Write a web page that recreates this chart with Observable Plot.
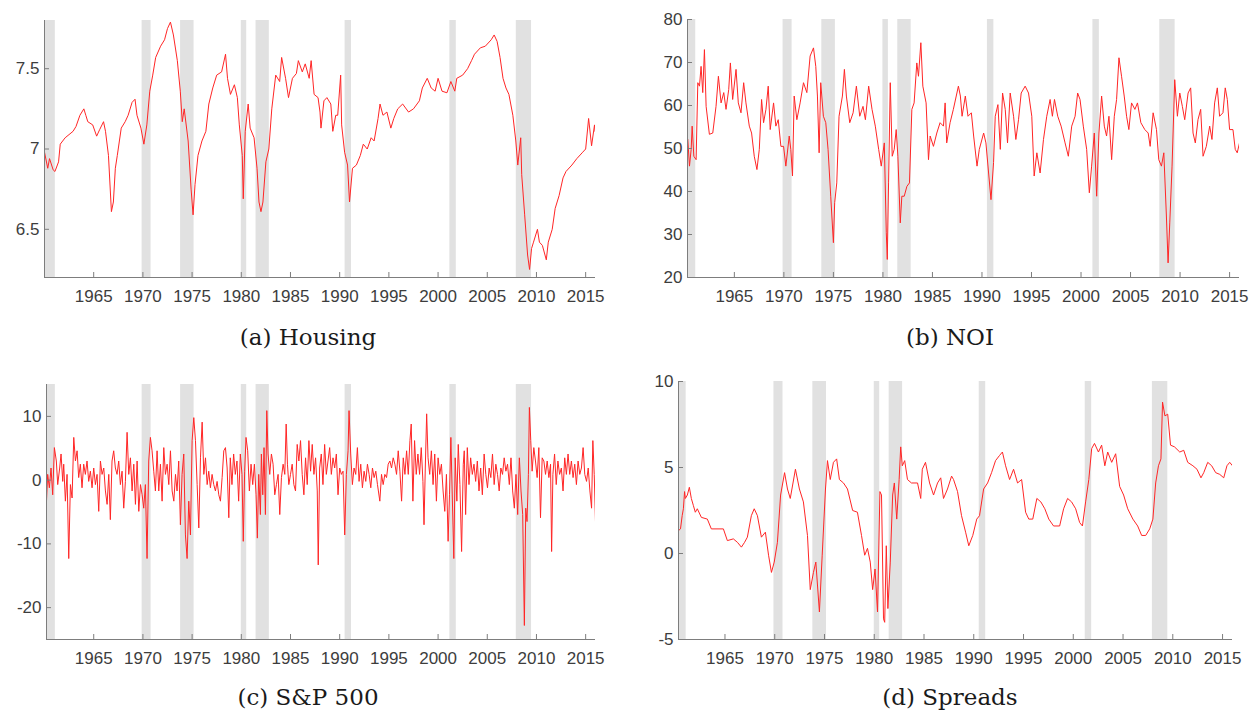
<!DOCTYPE html>
<html><head><meta charset="utf-8">
<script src="https://cdn.jsdelivr.net/npm/d3@7"></script>
<script src="https://cdn.jsdelivr.net/npm/@observablehq/plot@0.6"></script>
<style>
body{margin:0;background:#fff;}
#wrap{position:relative;width:1250px;height:711px;overflow:hidden;background:#fff;}
.panel{position:absolute;}
.cap{position:absolute;font-family:"DejaVu Serif",serif;font-size:23px;color:#1a1a1a;transform:translate(-50%,-50%);white-space:nowrap;}
</style></head><body><div id="wrap"></div>
<script>
// NBER recession periods [start, end] (decimal years)
const recessions = [[1960.0,1961.1],[1969.92,1970.83],[1973.83,1975.2],[1980.0,1980.55],[1981.5,1982.85],[1990.55,1991.2],[2001.2,2001.85],[2007.95,2009.5]];
const xTicks = [1965,1970,1975,1980,1985,1990,1995,2000,2005,2010,2015];

// (a) Housing  [year, value]
const housing = [[1960.0,6.98],[1960.33,6.88],[1960.51,6.94],[1960.88,6.87],[1961.06,6.86],[1961.43,6.92],[1961.6,7.03],[1962.1,7.07],[1962.9,7.11],[1963.2,7.14],[1963.6,7.21],[1964.0,7.25],[1964.2,7.21],[1964.4,7.17],[1964.9,7.15],[1965.3,7.08],[1965.6,7.12],[1966.0,7.17],[1966.2,7.11],[1966.5,6.96],[1966.8,6.61],[1967.0,6.67],[1967.2,6.88],[1967.4,6.96],[1967.8,7.13],[1968.2,7.17],[1968.5,7.21],[1968.9,7.29],[1969.2,7.31],[1969.4,7.21],[1969.8,7.13],[1970.1,7.03],[1970.4,7.15],[1970.7,7.36],[1971.0,7.46],[1971.3,7.57],[1971.8,7.64],[1972.2,7.68],[1972.5,7.75],[1972.8,7.79],[1973.1,7.71],[1973.5,7.55],[1973.8,7.36],[1974.0,7.17],[1974.2,7.25],[1974.6,7.05],[1974.9,6.75],[1975.1,6.59],[1975.3,6.78],[1975.6,6.96],[1976.0,7.05],[1976.4,7.11],[1976.7,7.28],[1977.1,7.38],[1977.5,7.46],[1978.0,7.48],[1978.4,7.59],[1978.6,7.44],[1978.9,7.34],[1979.3,7.40],[1979.6,7.32],[1979.8,7.15],[1980.1,6.96],[1980.2,6.69],[1980.4,7.11],[1980.7,7.28],[1980.9,7.13],[1981.3,7.07],[1981.6,6.88],[1981.8,6.67],[1982.0,6.61],[1982.2,6.67],[1982.5,6.92],[1982.8,7.00],[1983.1,7.25],[1983.5,7.46],[1983.9,7.42],[1984.1,7.57],[1984.5,7.44],[1984.8,7.32],[1985.2,7.44],[1985.6,7.47],[1985.8,7.55],[1986.2,7.48],[1986.5,7.53],[1986.9,7.44],[1987.1,7.55],[1987.4,7.34],[1987.8,7.32],[1988.0,7.23],[1988.1,7.13],[1988.4,7.30],[1988.7,7.32],[1989.1,7.28],[1989.3,7.11],[1989.6,7.21],[1989.8,7.21],[1990.1,7.46],[1990.2,7.15],[1990.5,6.98],[1990.8,6.90],[1991.0,6.67],[1991.3,6.88],[1991.7,6.90],[1992.1,6.96],[1992.4,7.03],[1992.8,7.00],[1993.2,7.07],[1993.5,7.05],[1993.9,7.19],[1994.1,7.28],[1994.4,7.21],[1994.8,7.23],[1995.2,7.13],[1995.5,7.19],[1995.9,7.25],[1996.4,7.28],[1997.0,7.23],[1997.5,7.25],[1998.1,7.30],[1998.4,7.38],[1998.9,7.44],[1999.3,7.38],[1999.7,7.36],[2000.0,7.44],[2000.4,7.36],[2000.9,7.35],[2001.3,7.42],[2001.7,7.36],[2001.9,7.44],[2002.5,7.46],[2003.0,7.50],[2003.4,7.55],[2003.7,7.59],[2004.3,7.63],[2004.8,7.64],[2005.4,7.68],[2005.7,7.71],[2006.0,7.67],[2006.3,7.57],[2006.6,7.44],[2006.9,7.38],[2007.2,7.34],[2007.6,7.21],[2007.9,7.05],[2008.1,6.90],[2008.4,7.07],[2008.5,6.84],[2008.8,6.59],[2009.1,6.34],[2009.3,6.25],[2009.5,6.38],[2009.7,6.42],[2010.1,6.50],[2010.3,6.42],[2010.6,6.40],[2011.0,6.31],[2011.2,6.42],[2011.6,6.50],[2011.9,6.63],[2012.3,6.71],[2012.7,6.82],[2013.0,6.86],[2013.6,6.90],[2014.1,6.94],[2014.7,6.98],[2015.0,7.00],[2015.3,7.19],[2015.6,7.02],[2015.9,7.15],[2015.95,7.11]];

// (b) NOI
const noi = [[1960.3,52.1],[1960.47,45.9],[1960.64,49.8],[1960.74,55.2],[1960.91,48.2],[1961.14,47.4],[1961.31,65.3],[1961.48,64.5],[1961.64,69.1],[1961.81,63.0],[1961.98,73.0],[1962.15,59.8],[1962.48,53.3],[1962.82,53.6],[1963.15,59.8],[1963.39,66.8],[1963.66,60.6],[1963.93,63.0],[1964.16,59.1],[1964.43,63.7],[1964.6,69.9],[1964.83,61.4],[1965.17,68.4],[1965.4,60.6],[1965.67,58.3],[1965.94,65.3],[1966.17,60.6],[1966.51,55.2],[1966.74,53.6],[1967.01,48.2],[1967.28,45.1],[1967.52,49.8],[1967.75,61.4],[1967.95,56.0],[1968.19,59.1],[1968.42,64.5],[1968.62,54.4],[1968.96,60.6],[1969.19,55.2],[1969.43,56.7],[1969.7,50.5],[1969.97,50.5],[1970.2,45.9],[1970.54,52.9],[1970.7,49.8],[1970.87,43.6],[1971.04,62.2],[1971.31,56.7],[1971.64,60.6],[1971.98,65.3],[1972.32,63.0],[1972.65,71.5],[1972.99,73.4],[1973.22,69.1],[1973.39,62.2],[1973.56,49.0],[1973.72,65.3],[1973.99,57.5],[1974.23,56.0],[1974.46,49.8],[1974.73,38.9],[1975.0,28.1],[1975.13,37.4],[1975.34,42.0],[1975.57,57.5],[1975.91,62.2],[1976.11,68.4],[1976.31,62.2],[1976.65,56.0],[1976.99,58.3],[1977.32,64.5],[1977.66,57.5],[1977.99,59.8],[1978.23,56.7],[1978.56,64.5],[1978.9,59.1],[1979.23,55.2],[1979.57,49.8],[1979.83,45.9],[1980.14,51.3],[1980.34,30.4],[1980.44,24.2],[1980.57,42.0],[1980.74,65.3],[1980.94,48.2],[1981.14,49.8],[1981.34,54.4],[1981.51,48.2],[1981.75,32.7],[1981.91,38.9],[1982.15,38.9],[1982.42,41.2],[1982.68,42.0],[1982.92,59.1],[1983.15,60.6],[1983.42,69.9],[1983.59,66.8],[1983.83,74.6],[1984.03,64.5],[1984.36,60.6],[1984.6,47.4],[1984.77,52.9],[1985.1,50.5],[1985.44,53.6],[1985.77,56.0],[1986.11,55.2],[1986.28,60.6],[1986.44,51.3],[1986.78,56.0],[1987.11,59.1],[1987.62,64.5],[1987.82,62.2],[1987.99,57.5],[1988.32,62.2],[1988.59,57.5],[1988.93,58.3],[1989.16,52.9],[1989.5,45.9],[1989.73,49.8],[1990.17,53.6],[1990.4,51.3],[1990.67,44.3],[1990.91,38.1],[1991.17,46.7],[1991.34,57.5],[1991.61,60.2],[1991.85,49.8],[1992.08,62.9],[1992.35,59.1],[1992.58,51.3],[1992.85,62.9],[1993.19,57.5],[1993.42,52.1],[1993.69,56.7],[1993.96,62.9],[1994.36,64.5],[1994.7,62.9],[1995.03,57.5],[1995.27,43.6],[1995.54,49.0],[1995.87,44.3],[1996.21,52.1],[1996.54,57.5],[1996.88,61.4],[1997.11,57.5],[1997.32,61.4],[1997.65,57.5],[1997.99,55.2],[1998.39,51.3],[1998.72,48.2],[1999.06,55.2],[1999.4,57.5],[1999.66,62.9],[1999.9,61.4],[2000.23,55.2],[2000.57,49.8],[2000.84,39.7],[2001.07,45.9],[2001.34,53.6],[2001.58,38.9],[2001.81,53.6],[2002.08,62.2],[2002.35,55.2],[2002.58,52.9],[2002.82,57.5],[2003.09,47.4],[2003.36,57.5],[2003.59,61.4],[2003.83,71.1],[2004.09,66.8],[2004.36,62.2],[2004.6,57.5],[2004.83,54.4],[2005.1,60.6],[2005.44,59.1],[2005.7,60.6],[2006.04,56.0],[2006.44,54.4],[2006.78,53.6],[2006.98,50.5],[2007.28,58.3],[2007.62,54.4],[2007.85,47.4],[2008.12,45.9],[2008.36,49.0],[2008.62,34.3],[2008.79,23.4],[2008.96,32.7],[2009.19,45.9],[2009.46,66.0],[2009.73,57.5],[2009.97,62.9],[2010.23,59.8],[2010.47,56.7],[2010.81,62.9],[2011.07,64.1],[2011.31,53.6],[2011.54,51.3],[2011.81,56.7],[2012.08,59.1],[2012.32,48.2],[2012.65,50.5],[2012.99,55.2],[2013.22,52.1],[2013.49,60.6],[2013.76,64.1],[2013.99,57.5],[2014.33,58.3],[2014.56,64.1],[2014.77,61.4],[2015.0,54.4],[2015.34,54.4],[2015.57,49.8],[2015.77,49.0],[2016.0,51.3]];

// (c) S&P 500
const sp500 = [[1960.2,-3.3],[1960.32,0.9],[1960.49,-1.2],[1960.66,1.9],[1960.83,-2.3],[1961.0,5.1],[1961.2,3.0],[1961.34,-0.7],[1961.54,1.9],[1961.68,4.1],[1961.85,-0.2],[1961.95,2.5],[1962.12,-3.3],[1962.29,0.9],[1962.46,-12.3],[1962.63,-0.7],[1962.8,-2.8],[1962.97,6.7],[1963.14,3.0],[1963.31,4.6],[1963.47,0.4],[1963.64,2.5],[1963.81,-1.2],[1963.98,2.5],[1964.15,0.9],[1964.32,3.0],[1964.49,-0.2],[1964.66,1.4],[1964.83,-1.2],[1965.0,1.9],[1965.17,-0.7],[1965.34,0.9],[1965.51,-4.9],[1965.68,3.0],[1965.85,0.9],[1966.02,1.9],[1966.19,-1.7],[1966.36,-3.8],[1966.53,0.9],[1966.69,-6.2],[1966.86,3.0],[1967.03,4.6],[1967.2,1.9],[1967.37,0.9],[1967.54,3.0],[1967.71,-0.7],[1967.88,1.4],[1968.05,-4.4],[1968.22,-0.2],[1968.39,7.5],[1968.56,0.9],[1968.73,3.5],[1968.9,-1.7],[1969.07,2.5],[1969.24,-3.8],[1969.41,3.0],[1969.58,-4.9],[1969.75,-0.7],[1969.92,-2.3],[1970.08,-4.4],[1970.25,-0.7],[1970.42,-12.3],[1970.59,3.0],[1970.76,6.7],[1970.93,4.6],[1971.1,1.4],[1971.27,-1.7],[1971.44,4.6],[1971.61,-1.7],[1971.78,2.5],[1971.95,-3.3],[1972.12,5.1],[1972.29,0.9],[1972.46,2.5],[1972.63,-0.7],[1972.8,4.6],[1972.97,-1.7],[1973.14,-3.3],[1973.31,0.9],[1973.47,-1.7],[1973.64,3.0],[1973.81,-7.0],[1973.98,0.9],[1974.15,4.1],[1974.32,-8.6],[1974.49,-12.3],[1974.66,-3.3],[1974.83,-8.6],[1975.0,6.2],[1975.17,9.8],[1975.34,6.2],[1975.51,-0.7],[1975.68,-7.5],[1975.85,3.5],[1976.02,9.1],[1976.19,0.9],[1976.36,3.5],[1976.53,-0.7],[1976.69,1.4],[1976.86,-1.2],[1977.03,0.9],[1977.2,-0.7],[1977.37,-1.7],[1977.54,-0.2],[1977.71,-2.3],[1977.88,-3.3],[1978.05,0.4],[1978.22,4.6],[1978.39,5.1],[1978.56,1.9],[1978.73,-5.9],[1978.88,3.5],[1979.05,-0.7],[1979.22,4.1],[1979.39,0.9],[1979.56,3.0],[1979.73,-3.3],[1979.9,4.1],[1980.07,0.9],[1980.2,-9.6],[1980.34,1.4],[1980.48,6.7],[1980.65,4.6],[1980.82,-1.7],[1980.99,2.5],[1981.16,-0.7],[1981.33,2.5],[1981.5,-2.3],[1981.63,-9.1],[1981.77,0.9],[1981.94,-5.4],[1982.04,4.1],[1982.18,-2.3],[1982.31,5.1],[1982.45,-5.4],[1982.59,10.9],[1982.72,4.1],[1982.89,0.9],[1983.06,4.1],[1983.23,2.5],[1983.4,-2.3],[1983.57,-0.7],[1983.74,0.9],[1983.91,-5.4],[1984.08,0.4],[1984.25,2.5],[1984.42,0.9],[1984.56,8.8],[1984.69,2.5],[1984.83,-0.7],[1985.0,0.9],[1985.17,2.5],[1985.34,-0.7],[1985.51,-1.7],[1985.68,5.6],[1985.85,3.0],[1986.02,6.2],[1986.19,0.9],[1986.36,-2.3],[1986.53,3.5],[1986.7,-0.7],[1986.87,6.2],[1987.04,1.4],[1987.21,5.6],[1987.38,0.9],[1987.55,3.5],[1987.72,-1.7],[1987.82,-13.3],[1987.96,1.9],[1988.13,4.1],[1988.3,-0.7],[1988.47,5.6],[1988.64,0.9],[1988.81,3.0],[1988.98,5.1],[1989.15,0.9],[1989.32,3.5],[1989.49,1.9],[1989.66,4.1],[1989.83,-2.3],[1990.0,1.9],[1990.17,0.9],[1990.34,1.4],[1990.51,-8.6],[1990.68,0.9],[1990.85,4.6],[1990.95,10.9],[1991.12,4.1],[1991.29,-0.7],[1991.46,1.9],[1991.63,0.9],[1991.8,5.1],[1991.97,-0.2],[1992.14,2.5],[1992.31,-1.2],[1992.48,1.4],[1992.65,-0.2],[1992.82,2.5],[1992.99,0.9],[1993.16,-1.2],[1993.33,1.9],[1993.5,0.4],[1993.67,1.4],[1993.84,-0.7],[1994.08,-3.3],[1994.25,0.9],[1994.42,-0.7],[1994.59,0.9],[1994.76,0.4],[1994.93,2.5],[1995.1,3.0],[1995.27,1.9],[1995.44,3.5],[1995.61,2.5],[1995.78,0.9],[1995.95,4.6],[1996.12,1.4],[1996.29,-3.3],[1996.46,3.5],[1996.63,0.9],[1996.8,4.6],[1996.97,0.9],[1997.14,6.2],[1997.27,8.8],[1997.44,-3.3],[1997.61,6.2],[1997.78,0.9],[1997.95,4.1],[1998.12,0.9],[1998.29,5.1],[1998.46,-0.2],[1998.57,-7.0],[1998.7,1.9],[1998.84,10.4],[1998.98,3.5],[1999.15,0.9],[1999.32,4.6],[1999.49,-0.7],[1999.66,4.1],[1999.83,-3.3],[2000.0,3.5],[2000.17,0.9],[2000.34,2.5],[2000.51,-1.7],[2000.68,-4.9],[2000.85,0.9],[2001.02,-9.6],[2001.16,-2.3],[2001.3,6.7],[2001.43,-1.7],[2001.6,-12.3],[2001.74,3.5],[2001.91,-3.3],[2002.05,5.6],[2002.22,-0.7],[2002.39,-11.2],[2002.56,2.5],[2002.66,4.6],[2002.8,-5.4],[2002.97,5.1],[2003.14,-0.7],[2003.31,3.5],[2003.48,0.9],[2003.65,2.5],[2003.82,-0.2],[2003.99,3.0],[2004.16,-1.7],[2004.33,1.9],[2004.5,-2.3],[2004.68,4.1],[2004.85,0.9],[2005.02,-1.2],[2005.19,1.9],[2005.36,0.4],[2005.53,4.1],[2005.7,-0.7],[2005.87,2.5],[2006.04,0.9],[2006.21,-1.7],[2006.38,1.9],[2006.55,0.9],[2006.72,3.5],[2006.89,1.4],[2007.06,2.5],[2007.24,-0.7],[2007.41,3.5],[2007.58,-1.7],[2007.75,-4.4],[2007.92,0.9],[2008.09,-5.4],[2008.26,3.5],[2008.43,-1.7],[2008.6,-5.4],[2008.77,-22.8],[2008.91,-4.4],[2009.04,-6.5],[2009.18,0.9],[2009.28,11.4],[2009.42,6.2],[2009.56,1.4],[2009.73,5.1],[2009.9,3.0],[2010.07,0.4],[2010.24,5.1],[2010.41,-5.9],[2010.58,3.5],[2010.75,3.0],[2010.92,0.9],[2011.09,3.0],[2011.26,0.4],[2011.43,2.5],[2011.54,-11.2],[2011.67,0.9],[2011.84,4.1],[2012.01,-0.7],[2012.18,3.0],[2012.35,0.9],[2012.53,1.9],[2012.7,-1.7],[2012.87,3.5],[2013.04,0.9],[2013.21,4.1],[2013.38,0.9],[2013.55,3.0],[2013.72,0.4],[2013.89,2.5],[2014.06,-0.7],[2014.23,3.0],[2014.4,0.9],[2014.57,1.9],[2014.74,5.1],[2014.91,0.9],[2015.09,-0.2],[2015.26,1.9],[2015.43,-1.7],[2015.6,-4.4],[2015.73,6.2],[2015.87,0.9],[2016.0,-6.5]];

// (d) Spreads
const spreads = [[1960.33,1.33],[1960.53,1.43],[1960.7,2.2],[1960.82,2.6],[1960.94,3.6],[1961.02,3.2],[1961.22,3.4],[1961.42,3.85],[1961.62,3.2],[1961.82,2.8],[1962.02,2.4],[1962.22,2.6],[1962.63,2.1],[1963.23,2.0],[1963.63,1.43],[1964.84,1.43],[1965.24,0.75],[1965.84,0.85],[1966.25,0.65],[1966.65,0.37],[1966.97,0.65],[1967.25,0.95],[1967.65,2.2],[1967.94,2.6],[1968.26,2.2],[1968.66,0.95],[1969.06,1.24],[1969.38,-0.1],[1969.67,-1.1],[1969.95,-0.5],[1970.27,0.65],[1970.59,3.4],[1970.99,4.7],[1971.28,3.75],[1971.56,3.2],[1972.08,4.9],[1972.48,3.75],[1972.88,3.0],[1973.29,1.05],[1973.57,-2.1],[1973.89,-1.1],[1974.13,-0.5],[1974.49,-3.4],[1974.77,-0.1],[1975.1,3.75],[1975.3,5.4],[1975.58,4.3],[1975.9,5.3],[1976.22,5.5],[1976.5,4.3],[1976.91,4.1],[1977.31,3.75],[1977.83,2.5],[1978.31,2.4],[1978.72,1.05],[1979.04,-0.1],[1979.32,0.3],[1979.6,-0.5],[1979.84,-2.1],[1980.08,-0.9],[1980.33,-3.4],[1980.57,3.6],[1980.73,3.4],[1980.93,-3.8],[1981.05,-4.0],[1981.21,0.45],[1981.37,-3.2],[1981.61,-0.5],[1981.85,3.4],[1982.02,4.1],[1982.26,2.0],[1982.5,4.3],[1982.66,6.2],[1982.82,5.1],[1983.06,5.4],[1983.34,4.3],[1983.74,4.1],[1984.35,4.1],[1984.67,3.2],[1984.83,4.9],[1985.15,5.3],[1985.56,4.1],[1985.96,3.4],[1986.36,4.1],[1986.68,4.4],[1986.96,3.2],[1987.36,3.75],[1987.77,4.5],[1987.97,4.3],[1988.37,3.6],[1988.77,2.2],[1989.18,1.24],[1989.5,0.45],[1989.9,1.05],[1990.3,2.0],[1990.58,2.2],[1990.99,3.75],[1991.39,4.1],[1991.79,4.7],[1992.19,5.4],[1992.59,5.7],[1992.88,5.9],[1993.2,5.1],[1993.6,4.3],[1994.0,4.9],[1994.4,4.1],[1994.81,4.3],[1995.21,2.4],[1995.53,2.0],[1995.93,2.0],[1996.34,3.2],[1996.74,3.0],[1997.14,2.6],[1997.54,2.0],[1998.02,1.6],[1998.63,1.6],[1999.03,2.6],[1999.43,3.2],[1999.83,3.0],[2000.24,2.6],[2000.64,1.8],[2000.92,1.6],[2001.24,3.0],[2001.56,4.3],[2001.85,6.1],[2002.13,6.4],[2002.53,5.9],[2002.85,6.3],[2003.17,5.1],[2003.46,5.9],[2003.86,5.3],[2004.26,5.8],[2004.66,3.9],[2005.06,3.4],[2005.47,2.6],[2005.99,2.0],[2006.47,1.6],[2006.87,1.05],[2007.28,1.05],[2007.68,1.43],[2008.0,2.0],[2008.28,4.1],[2008.56,5.1],[2008.81,5.5],[2008.97,8.8],[2009.21,8.0],[2009.49,8.1],[2009.77,6.3],[2010.17,6.2],[2010.7,5.9],[2011.1,6.0],[2011.5,5.3],[2012.02,5.1],[2012.43,4.9],[2012.83,4.4],[2013.11,4.7],[2013.51,5.3],[2013.91,5.1],[2014.31,4.7],[2014.72,4.6],[2015.12,4.4],[2015.44,5.1],[2015.72,5.3],[2016.0,5.1]];

const panels = [
  {data: housing, left: 0,   top: 0,   ml: 44, mr: 30, mt: 20, mb: 43, xd: [1960.0, 2016.0], yd: [6.2, 7.8], yt: [6.5, 7, 7.5], cap: "(a) Housing", cx: 308, cy: 337},
  {data: noi,     left: 625, top: 0,   ml: 62, mr: 11, mt: 19, mb: 43, xd: [1960.27, 2016.0], yd: [20, 80], yt: [20,30,40,50,60,70,80], cap: "(b) NOI", cx: 950, cy: 337},
  {data: sp500,   left: 0,   top: 355, ml: 46, mr: 30, mt: 29, mb: 36, xd: [1960.2, 2016.0], yd: [-25, 15], yt: [-20,-10,0,10], cap: "(c) S&P 500", cx: 308, cy: 697},
  {data: spreads, left: 625, top: 355, ml: 53, mr: 18, mt: 26, mb: 36, xd: [1960.33, 2016.0], yd: [-5, 10], yt: [-5,0,5,10], cap: "(d) Spreads", cx: 950, cy: 697}
];

const wrap = document.getElementById("wrap");
for (const p of panels) {
  const svg = Plot.plot({
    width: 625, height: 320,
    marginLeft: p.ml, marginRight: p.mr, marginTop: p.mt, marginBottom: p.mb,
    x: {domain: p.xd},
    y: {domain: p.yd},
    style: {fontFamily: '"Liberation Sans", Arial, sans-serif', fontSize: "17px", background: "transparent", overflow: "visible"},
    marks: [
      Plot.rect(recessions, {x1: d => d[0], x2: d => d[1], fill: "#e1e1e1", clip: true}),
      Plot.line(p.data, {x: d => d[0], y: d => d[1], stroke: "#ff2626", strokeWidth: 1, clip: true}),
      Plot.ruleX([p.xd[0]], {stroke: "#7d7d7d"}),
      Plot.ruleY([p.yd[0]], {stroke: "#7d7d7d"}),
      Plot.axisX({ticks: xTicks, tickSize: -5, tickPadding: 17, tickFormat: d => String(d), fill: "#3d3d3d", stroke: "#7d7d7d"}),
      Plot.axisY({ticks: p.yt, tickSize: -5, tickPadding: 10, tickFormat: d => String(d), fill: "#3d3d3d", stroke: "#7d7d7d"})
    ]
  });
  const div = document.createElement("div");
  div.className = "panel";
  div.style.left = p.left + "px";
  div.style.top = p.top + "px";
  div.appendChild(svg);
  wrap.appendChild(div);
  const cap = document.createElement("div");
  cap.className = "cap";
  cap.textContent = p.cap;
  cap.style.left = p.cx + "px";
  cap.style.top = p.cy + "px";
  wrap.appendChild(cap);
}
</script></body></html>
